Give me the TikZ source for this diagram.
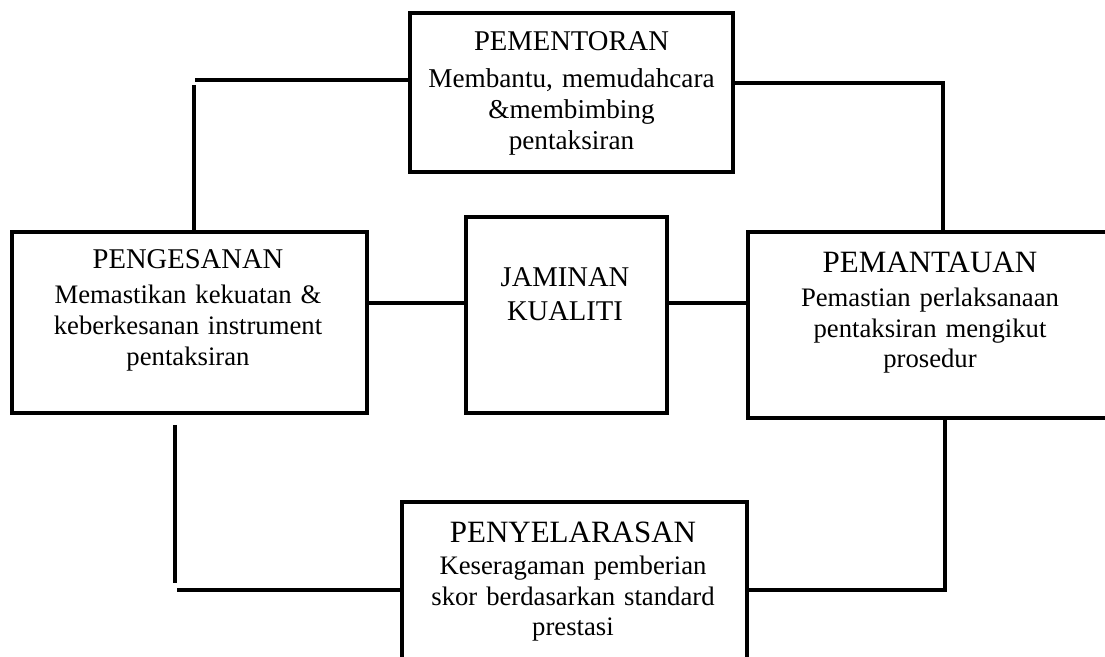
\documentclass[tikz,border=0pt]{standalone}
\usepackage{fontspec}
\setmainfont{Liberation Serif}
\usetikzlibrary{positioning}

\begin{document}
\begin{tikzpicture}[x=1pt,y=-1pt,line width=1.6pt]
	\tikzstyle{kotak}=[rectangle, draw=black, inner sep=0pt]
	\tikzstyle{teks}=[anchor=north, align=center, inner sep=0pt, font=\fontsize{13.35}{15.4}\selectfont]
	\useasboundingbox (0,0) rectangle (552.5,328.5);
	
	\node[kotak, minimum width=161.5pt, minimum height=79.5pt] (1) at (285.75,46.25) {};
	\node[kotak, minimum width=177.5pt, minimum height=90.5pt] (2) at (94.75,161.25) {};
	\node[kotak, minimum width=100.5pt, minimum height=98pt]   (3) at (283.25,157.5) {};
	\node[kotak, minimum width=182pt,   minimum height=93pt]   (4) at (465,162.5) {};
	\node[kotak, minimum width=172.5pt, minimum height=89pt]   (5) at (287.25,295.5) {};
	
	\node[teks, text width=155pt, font=\fontsize{13.6}{15.4}\selectfont] (t1) [below=9.5pt of 1.north]
		{{\fontsize{14.3}{15}\selectfont PEMENTORAN}\\[3pt] Membantu, memudahcara\\ \&membimbing\\ pentaksiran};
	\node[teks, text width=165pt] (t2) [below=9pt of 2.north, xshift=-0.75pt]
		{{\fontsize{14.3}{15}\selectfont PENGESANAN}\\[2pt] Memastikan kekuatan \&\\ keberkesanan instrument\\ pentaksiran};
	\node[teks, text width=90pt, font=\fontsize{14.3}{17}\selectfont] (t3) [below=25.5pt of 3.north, xshift=-0.75pt]
		{JAMINAN\\ KUALITI};
	\node[teks, text width=170pt] (t4) [below=10pt of 4.north]
		{{\fontsize{15.5}{15}\selectfont PEMANTAUAN}\\[1.5pt] Pemastian perlaksanaan\\ pentaksiran mengikut\\ prosedur};
	\node[teks, text width=165pt] (t5) [below=10pt of 5.north, xshift=-0.75pt]
		{{\fontsize{15.5}{15}\selectfont PENYELARASAN}\\[0.5pt] Keseragaman pemberian\\ skor berdasarkan standard\\ prestasi};
	
	\coordinate (a) at (97.5,40);
	\coordinate (b) at (97,42.5);
	\coordinate (c) at (471.5,41.5);
	\coordinate (m) at (0,151.5);
	\coordinate (d) at (87.5,212.5);
	\coordinate (e) at (87.5,291.5);
	\coordinate (f) at (88.5,295);
	\coordinate (g) at (472.5,295);
	
	\draw (a) -- (1.west |- a);
	\draw (b) -- (b |- 2.north);
	\draw (1.east |- c) -- (c) -- (c |- 4.north);
	\draw (2.east |- m) -- (3.west |- m);
	\draw (3.east |- m) -- (4.west |- m);
	\draw (d) -- (e);
	\draw (f) -- (f -| 5.west);
	\draw (4.south -| g) -- (g) -- (g -| 5.east);
	
\end{tikzpicture}
\end{document}
